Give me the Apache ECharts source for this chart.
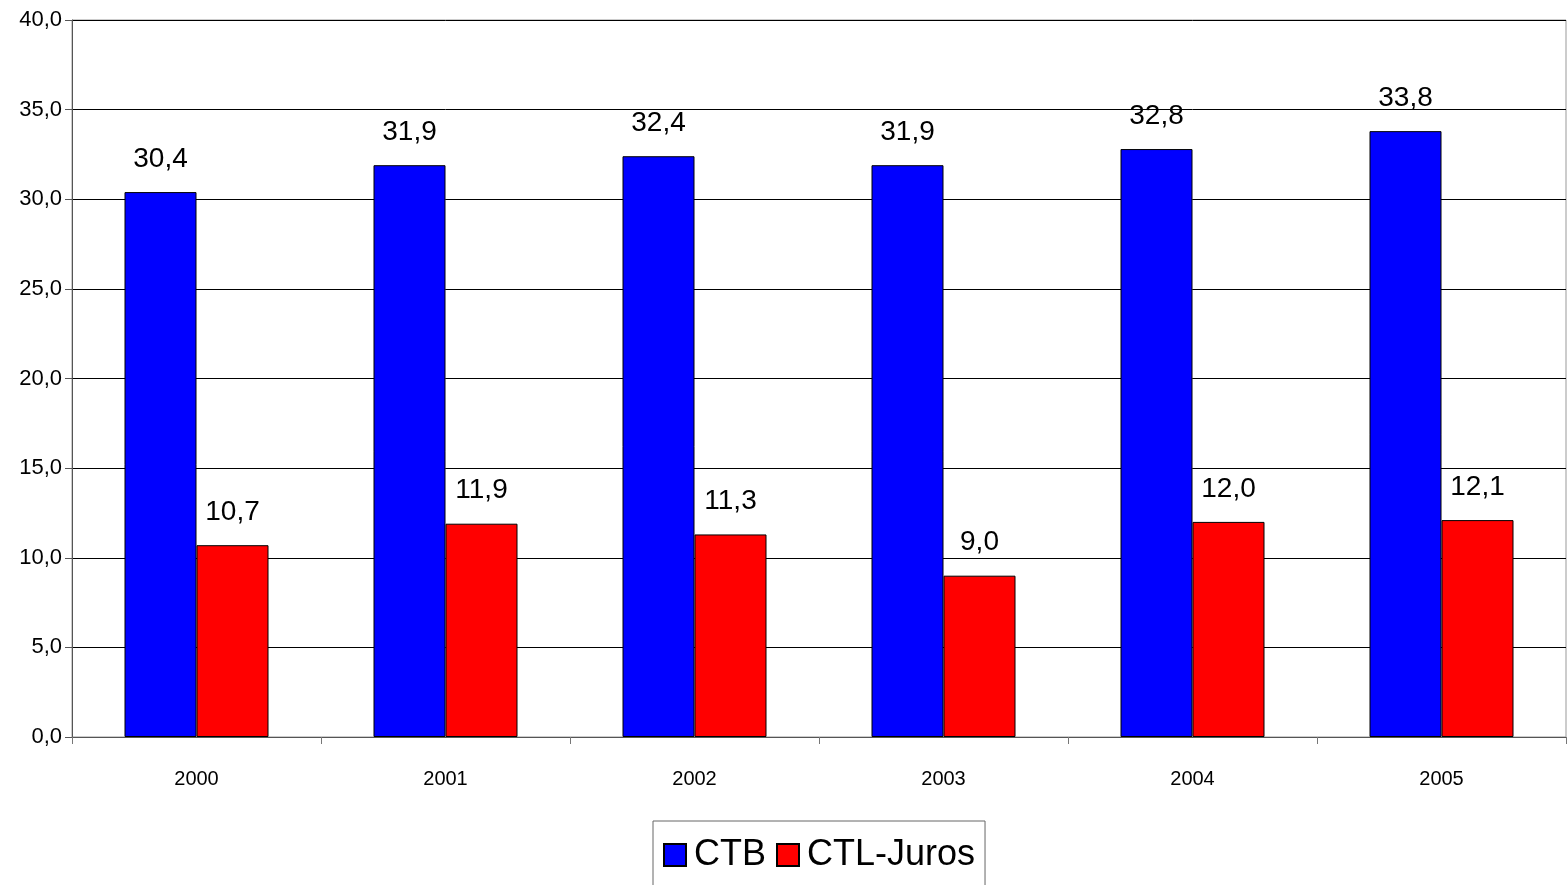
<!DOCTYPE html>
<html><head><meta charset="utf-8">
<script src="https://cdn.jsdelivr.net/npm/echarts@6/dist/echarts.min.js"></script>
<style>html,body{margin:0;padding:0;background:#fff}#c{width:1568px;height:885px}</style>
</head><body><div id="c"></div>
<script>
const categories = ['2000','2001','2002','2003','2004','2005'];
const ctb = [30.4, 31.9, 32.4, 31.9, 32.8, 33.8];
const ctlJuros = [10.7, 11.9, 11.3, 9.0, 12.0, 12.1];
const seriesNames = ['CTB','CTL-Juros'];

const FONT = '"Liberation Sans Narrow", "Arial Narrow", "Liberation Sans", Arial, sans-serif';
const fmt = v => v.toFixed(1).replace('.', ',');
const chart = echarts.init(document.getElementById('c'));
const labelCfg = {show:true, position:'top', distance:19, color:'#000', fontFamily:FONT, fontSize:28,
  formatter: p => fmt(p.value)};
chart.setOption({
  animation:false,
  grid:{left:72, right:2, top:20, bottom:148, show:true, borderColor:'#999', borderWidth:1},
  legend:{left:653, top:821, itemWidth:22, itemHeight:22, itemGap:10, padding:[16,10,30,10],
    borderColor:'#666', borderWidth:1, backgroundColor:'#fff',
    textStyle:{fontFamily:FONT, fontSize:36, color:'#000', padding:[0,0,0,3]},
    data:[{name:'CTB', icon:'rect'},{name:'CTL-Juros', icon:'rect'}]},
  xAxis:{type:'category', data:categories, boundaryGap:true,
    axisLine:{lineStyle:{color:'#555', width:1}},
    axisTick:{show:true, length:7, lineStyle:{color:'#777'}},
    axisLabel:{color:'#000', fontFamily:FONT, fontSize:20, margin:32}},
  yAxis:{type:'value', min:0, max:40, interval:5,
    axisLine:{show:true, lineStyle:{color:'#555', width:1}},
    axisTick:{show:true, length:7, lineStyle:{color:'#555'}},
    splitLine:{lineStyle:{color:'#000', width:1}},
    axisLabel:{color:'#000', fontFamily:FONT, fontSize:22, margin:10, formatter: v => fmt(v)}},
  series:[
    {name:seriesNames[0], type:'bar', data:ctb, barWidth:72, barGap:'0%',
     itemStyle:{color:'#0000ff', borderColor:'#000', borderWidth:1}, label:labelCfg},
    {name:seriesNames[1], type:'bar', data:ctlJuros, barWidth:72, barGap:'0%',
     itemStyle:{color:'#ff0000', borderColor:'#000', borderWidth:1}, label:labelCfg}
  ]
});
</script></body></html>
